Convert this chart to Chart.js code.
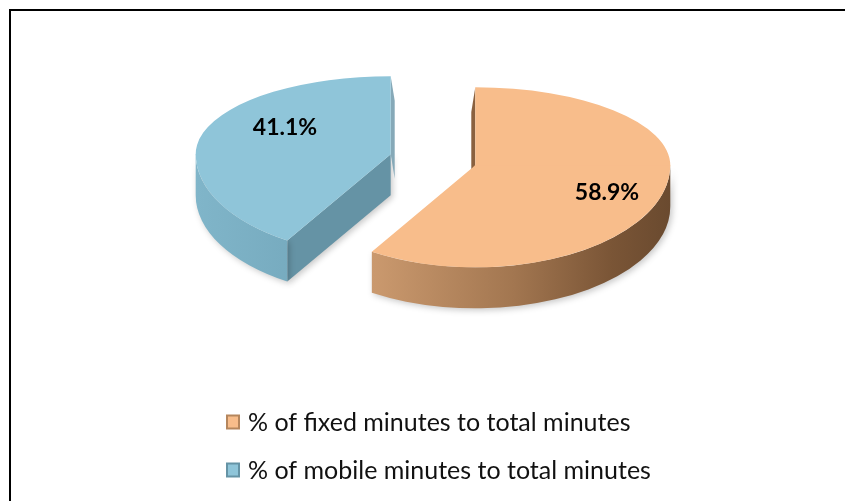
<!DOCTYPE html>
<html>
<head>
<meta charset="utf-8">
<script src="https://cdn.jsdelivr.net/npm/chart.js@4.4.0/dist/chart.umd.min.js"></script>
<style>
  html, body { margin: 0; padding: 0; background: #fff; overflow: hidden; }
  canvas { display: block; }
</style>
</head>
<body>
<canvas id="minutesChart" width="845" height="501"></canvas>
<script>
const categories = ['% of fixed minutes to total minutes', '% of mobile minutes to total minutes'];
const shares = [58.9, 41.1];
const topColors = ['#f8bd8b', '#8fc5d9'];
const edgeColors = ['#b5865d', '#6593a5'];
const rimColors = ['#8a613f', '#86a9b8'];

// look of the tilted pie: the far half is squashed more than the near half
const TILT_BACK = 0.40;
const TILT_FRONT = 0.523;
const DEPTH = 41;
const EXPLODE = 44;
const CENTER = { x: 433, y: 159 };
const labelSpots = [{ x: 607, y: 193 }, { x: 285, y: 128 }];
const legendRows = [422, 470];

const tiltAt = a => (Math.sin(a) > 0 ? TILT_FRONT : TILT_BACK);

function sliceCenter(arc) {
    const mid = (arc.startAngle + arc.endAngle) / 2;
    return {
        x: CENTER.x + Math.cos(mid) * EXPLODE,
        y: CENTER.y + Math.sin(mid) * EXPLODE * tiltAt(mid)
    };
}

// parts of an arc that lie on the front half of the ellipse
function frontSpans(s, e) {
    const spans = [];
    [-2 * Math.PI, 0, 2 * Math.PI].forEach(shift => {
        const a = Math.max(s, shift);
        const b = Math.min(e, shift + Math.PI);
        if (b > a) spans.push([a, b]);
    });
    return spans;
}

function wallGradient(ctx, c, r, i) {
    const g = ctx.createLinearGradient(c.x - r, 0, c.x + r, 0);
    if (i === 0) {
        g.addColorStop(0, '#d3a277');
        g.addColorStop(0.25, '#c9986d');
        g.addColorStop(0.6, '#a27650');
        g.addColorStop(0.85, '#7a5536');
        g.addColorStop(1, '#6a4a2f');
    } else {
        g.addColorStop(0, '#80b5c9');
        g.addColorStop(0.3, '#75a9bd');
        g.addColorStop(1, '#5f8b9c');
    }
    return g;
}

function drawWalls(ctx, arc, i) {
    const c = sliceCenter(arc);
    const r = arc.outerRadius;
    ctx.save();
    ctx.shadowColor = 'rgba(0,0,0,0.22)';
    ctx.shadowBlur = 6;
    ctx.shadowOffsetX = 2;
    ctx.shadowOffsetY = 2;

    const faces = [];
    if (Math.cos(arc.startAngle) < -1e-6) faces.push(arc.startAngle);
    if (Math.cos(arc.endAngle) > 1e-6) faces.push(arc.endAngle);
    faces.forEach(a => {
        const px = c.x + Math.cos(a) * r;
        const py = c.y + Math.sin(a) * r * tiltAt(a);
        ctx.beginPath();
        ctx.moveTo(c.x, c.y);
        ctx.lineTo(px, py);
        ctx.lineTo(px, py + DEPTH);
        ctx.lineTo(c.x, c.y + DEPTH);
        ctx.closePath();
        ctx.fillStyle = edgeColors[i];
        ctx.fill();
    });

    const ry = r * TILT_FRONT;
    frontSpans(arc.startAngle, arc.endAngle).forEach(([a, b]) => {
        ctx.beginPath();
        ctx.ellipse(c.x, c.y, r, ry, 0, a, b);
        ctx.ellipse(c.x, c.y + DEPTH, r, ry, 0, b, a, true);
        ctx.closePath();
        ctx.fillStyle = wallGradient(ctx, c, r, i);
        ctx.fill();
    });
    ctx.restore();

    // thin sliver of the wall that stands edge-on at the top of the pie
    [arc.startAngle, arc.endAngle].forEach((a, k) => {
        if (Math.abs(Math.cos(a)) > 1e-3 || Math.sin(a) > 0) return;
        const side = k === 0 ? -1 : 1;
        const topY = c.y - r * TILT_BACK;
        ctx.beginPath();
        ctx.moveTo(c.x, topY);
        ctx.lineTo(c.x, c.y);
        ctx.lineTo(c.x + side * 4, c.y + DEPTH * 0.6);
        ctx.lineTo(c.x + side * 4, topY + DEPTH * 0.6);
        ctx.closePath();
        ctx.fillStyle = rimColors[i];
        ctx.fill();
    });
}

function drawTop(chart, arc) {
    const ctx = chart.ctx;
    const c = sliceCenter(arc);
    [[TILT_BACK, 0, c.y + 1], [TILT_FRONT, c.y, chart.height]].forEach(([k, y0, y1]) => {
        ctx.save();
        ctx.beginPath();
        ctx.rect(0, y0, chart.width, y1 - y0);
        ctx.clip();
        ctx.translate(c.x, c.y);
        ctx.scale(1, k);
        ctx.translate(-arc.x, -arc.y);
        arc.draw(ctx);
        ctx.restore();
    });
}

const pie3d = {
    id: 'pie3d',
    beforeDraw(chart) {
        const ctx = chart.ctx;
        ctx.save();
        ctx.fillStyle = '#fff';
        ctx.fillRect(0, 0, chart.width, chart.height);
        ctx.fillStyle = '#000';
        ctx.fillRect(9, 9, chart.width - 9, 2);
        ctx.fillRect(9, 9, 2, chart.height - 9);
        ctx.restore();
    },
    beforeDatasetsDraw(chart) {
        const arcs = chart.getDatasetMeta(0).data;
        arcs.forEach((arc, i) => {
            drawWalls(chart.ctx, arc, i);
            drawTop(chart, arc);
        });
        return false;
    },
    afterDraw(chart) {
        const ctx = chart.ctx;
        ctx.save();
        ctx.fillStyle = '#000';
        ctx.textAlign = 'center';
        ctx.textBaseline = 'middle';
        ctx.font = 'bold 23px Lato';
        shares.forEach((v, i) => {
            ctx.fillText(v.toFixed(1) + '%', labelSpots[i].x, labelSpots[i].y);
        });

        // legend
        ctx.textAlign = 'left';
        ctx.font = '25px Lato';
        categories.forEach((name, i) => {
            const y = legendRows[i];
            ctx.fillStyle = edgeColors[i];
            ctx.fillRect(226, y - 7.5, 14, 15);
            ctx.fillStyle = topColors[i];
            ctx.fillRect(228, y - 5.5, 10, 11);
            ctx.fillStyle = '#111';
            ctx.fillText(name, 248, y + 1);
        });
        ctx.restore();
    }
};

function buildChart() {
    const ctx = document.getElementById('minutesChart').getContext('2d');
    new Chart(ctx, {
        type: 'pie',
        data: {
            labels: categories,
            datasets: [{
                data: shares,
                backgroundColor: topColors,
                borderWidth: 0,
                offset: 0,
                hoverOffset: 0
            }]
        },
        options: {
            responsive: false,
            animation: false,
            radius: 195,
            rotation: 0,
            plugins: {
                legend: { display: false },
                tooltip: { enabled: false }
            }
        },
        plugins: [pie3d]
    });
}

document.fonts.load('bold 23px Lato').then(buildChart, buildChart);
</script>
</body>
</html>
